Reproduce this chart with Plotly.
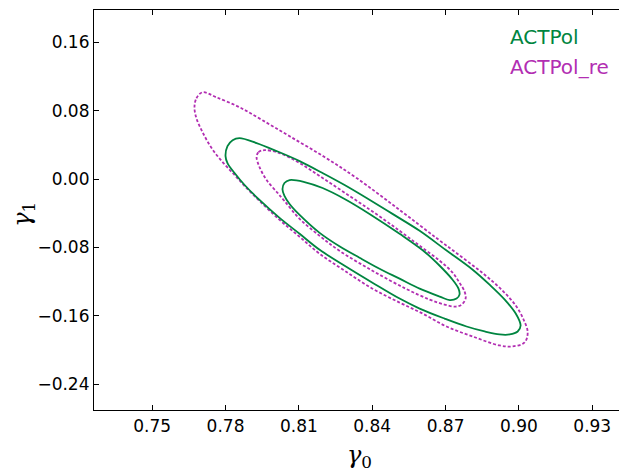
import plotly.graph_objects as go

# ACTPol 68% / 95% contours (gamma0, gamma1)
actpol_in_g0 = [0.8033, 0.8041, 0.8062, 0.8123, 0.8197, 0.8287, 0.8389, 0.8512, 0.8614, 0.8676,
                0.8725, 0.8753, 0.8757, 0.8745, 0.8717, 0.8676, 0.8594, 0.8512, 0.8430, 0.8348,
                0.8266, 0.8185, 0.8103, 0.8062, 0.8041, 0.8033]
actpol_in_g1 = [-0.0117, -0.0047, -0.0012, -0.0035, -0.0105, -0.0233, -0.0408, -0.0641, -0.0851, -0.1015,
                -0.1166, -0.1283, -0.1353, -0.1399, -0.1417, -0.1376, -0.1283, -0.1166, -0.1050, -0.0921,
                -0.0787, -0.0630, -0.0420, -0.0292, -0.0198, -0.0117]

actpol_out_g0 = [0.7800, 0.7808, 0.7829, 0.7857, 0.7927, 0.8009, 0.8103, 0.8197, 0.8287, 0.8377,
                 0.8483, 0.8594, 0.8700, 0.8811, 0.8880, 0.8942, 0.8987, 0.9007, 0.8995, 0.8962,
                 0.8921, 0.8860, 0.8786, 0.8696, 0.8594, 0.8512, 0.8401, 0.8307, 0.8185, 0.8103,
                 0.8021, 0.7939, 0.7878, 0.7837, 0.7808, 0.7800]
actpol_out_g1 = [0.0268, 0.0385, 0.0455, 0.0478, 0.0420, 0.0327, 0.0210, 0.0070, -0.0070, -0.0222,
                 -0.0408, -0.0606, -0.0828, -0.1061, -0.1236, -0.1411, -0.1574, -0.1714, -0.1784, -0.1819,
                 -0.1819, -0.1784, -0.1726, -0.1633, -0.1516, -0.1399, -0.1213, -0.1050, -0.0828, -0.0641,
                 -0.0455, -0.0245, -0.0070, 0.0070, 0.0187, 0.0268]

# ACTPol_re 68% / 95% contours
re_in_g0 = [0.7927, 0.7935, 0.7960, 0.8021, 0.8103, 0.8197, 0.8307, 0.8410, 0.8512, 0.8594,
            0.8676, 0.8729, 0.8757, 0.8778, 0.8782, 0.8766, 0.8741, 0.8696, 0.8635, 0.8537,
            0.8401, 0.8266, 0.8185, 0.8103, 0.8041, 0.8013, 0.7968, 0.7939, 0.7927]
re_in_g1 = [0.0257, 0.0315, 0.0338, 0.0303, 0.0187, 0.0012, -0.0198, -0.0397, -0.0606, -0.0781,
            -0.0956, -0.1096, -0.1213, -0.1318, -0.1399, -0.1469, -0.1493, -0.1469, -0.1411, -0.1283,
            -0.1073, -0.0840, -0.0665, -0.0466, -0.0257, -0.0163, -0.0012, 0.0140, 0.0257]

re_out_g0 = [0.7673, 0.7681, 0.7706, 0.7763, 0.7857, 0.7951, 0.8062, 0.8205, 0.8336, 0.8512,
             0.8667, 0.8770, 0.8860, 0.8933, 0.8987, 0.9019, 0.9036, 0.9023, 0.8974, 0.8921,
             0.8811, 0.8704, 0.8606, 0.8512, 0.8401, 0.8287, 0.8185, 0.8103, 0.8021, 0.7939,
             0.7878, 0.7837, 0.7788, 0.7743, 0.7706, 0.7681, 0.7673]
re_out_g1 = [0.0840, 0.0945, 0.1015, 0.0956, 0.0840, 0.0688, 0.0501, 0.0257, 0.0012, -0.0362,
             -0.0700, -0.0921, -0.1120, -0.1306, -0.1481, -0.1644, -0.1796, -0.1913, -0.1959, -0.1948,
             -0.1843, -0.1726, -0.1574, -0.1446, -0.1283, -0.1073, -0.0875, -0.0676, -0.0478, -0.0257,
             -0.0082, 0.0047, 0.0198, 0.0362, 0.0548, 0.0711, 0.0840]

x_ticks = [0.75, 0.78, 0.81, 0.84, 0.87, 0.90, 0.93]
y_ticks = [0.16, 0.08, 0.00, -0.08, -0.16, -0.24]
series_names = ["ACTPol", "ACTPol_re"]
axis_labels = ["<i>γ</i><sub>0</sub>", "<i>γ</i><sub>1</sub>"]

GREEN = "#008540"
MAGENTA = "#b22eb2"

fig = go.Figure()
for xs, ys in [(re_out_g0, re_out_g1), (re_in_g0, re_in_g1)]:
    fig.add_trace(go.Scatter(x=xs, y=ys, mode="lines",
                             line=dict(color=MAGENTA, width=1.8, dash="3px,2px", shape="spline", smoothing=1.0),
                             showlegend=False, hoverinfo="skip"))
for xs, ys in [(actpol_out_g0, actpol_out_g1), (actpol_in_g0, actpol_in_g1)]:
    fig.add_trace(go.Scatter(x=xs, y=ys, mode="lines",
                             line=dict(color=GREEN, width=1.8, shape="spline", smoothing=1.0),
                             showlegend=False, hoverinfo="skip"))

axis_common = dict(showline=True, linecolor="black", linewidth=1.2, mirror="ticks",
                   ticks="inside", ticklen=5, tickwidth=1, tickcolor="black",
                   showgrid=False, zeroline=False, automargin=False,
                   tickfont=dict(family="DejaVu Sans", size=17, color="black"))

fig.update_xaxes(range=[0.7262, 0.9434], tickvals=x_ticks, tickformat=".2f", **axis_common)
fig.update_yaxes(range=[-0.2703, 0.1978], tickvals=y_ticks, tickformat=".2f", **axis_common)

# axis titles
fig.add_annotation(text=axis_labels[0], xref="paper", yref="paper", x=0.5, y=-0.115,
                   xanchor="center", yanchor="middle", showarrow=False,
                   font=dict(family="DejaVu Serif", size=24, color="black"))
fig.add_annotation(text=axis_labels[1], xref="paper", yref="paper", x=-0.134, y=0.49,
                   xanchor="center", yanchor="middle", showarrow=False, textangle=-90,
                   font=dict(family="DejaVu Serif", size=24, color="black"))

for name, color, yp in [(series_names[0], GREEN, 0.9325), (series_names[1], MAGENTA, 0.8575)]:
    fig.add_annotation(text=name, xref="paper", yref="paper", x=0.78, y=yp,
                       xanchor="left", yanchor="middle", showarrow=False,
                       font=dict(family="DejaVu Sans", size=20, color=color))

# the page body adds an 8px offset, so the figure is 8px smaller and margins shifted
fig.update_layout(width=619, height=464, margin=dict(l=86, r=2, t=2, b=62, autoexpand=False),
                  plot_bgcolor="white", paper_bgcolor="white", showlegend=False)

fig.write_html("out.html")
